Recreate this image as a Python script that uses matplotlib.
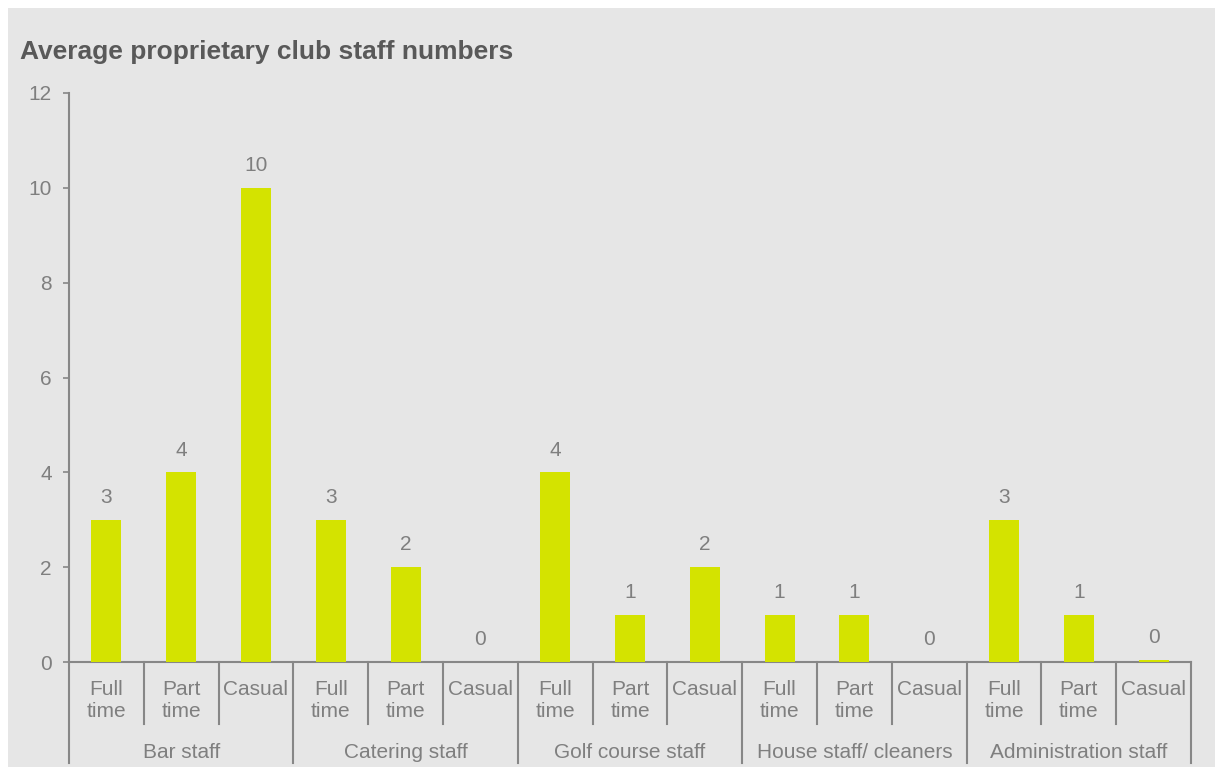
import matplotlib
matplotlib.use("Agg")
import matplotlib.pyplot as plt
from matplotlib.patches import Rectangle

plt.rcParams['font.family'] = ['Liberation Sans', 'DejaVu Sans']

groups = ["Bar staff", "Catering staff", "Golf course staff",
          "House staff/ cleaners", "Administration staff"]
roles = ["Full\ntime", "Part\ntime", "Casual"]
values = [3, 4, 10,
          3, 2, 0,
          4, 1, 2,
          1, 1, 0,
          3, 1, 0.04]

bar_color = "#D4E300"
grey_txt = "#7F7F7F"
line_col = "#878787"

W, H = 1215, 769
fig = plt.figure(figsize=(W / 100, H / 100), dpi=100)
fig.patch.set_facecolor("white")
fig.patches.append(Rectangle((8 / W, 2 / H), 1 - 8 / W, (767 - 8) / H,
                             transform=fig.transFigure, facecolor="#E6E6E6",
                             edgecolor="none", zorder=-5))

fig.text(20 / W, 1 - 52 / H, "Average proprietary club staff numbers",
         fontsize=19, fontweight="bold", color="#595959", va="center")

ax = fig.add_axes([69 / W, 107 / H, (1191 - 69) / W, (676 - 107) / H])
ax.set_facecolor("none")
ax.set_zorder(2)

n = len(values)
xs = list(range(n))
ax.bar(xs, values, width=0.4, color=bar_color, zorder=3)

for x, v in zip(xs, values):
    ax.annotate(f"{v:.0f}", (x, v), xytext=(0, 16), textcoords="offset points",
                ha="center", va="center", fontsize=15, color=grey_txt)

ax.set_xlim(-0.5, n - 0.5)
ax.set_ylim(0, 12)
ax.set_yticks(range(0, 13, 2))
ax.tick_params(axis="y", direction="out", length=4.5, width=1.2, color=line_col,
               labelcolor=grey_txt, labelsize=15, pad=8)
ax.set_xticks([])
for s in ["top", "right"]:
    ax.spines[s].set_visible(False)
for s in ["left", "bottom"]:
    ax.spines[s].set_color(line_col)
    ax.spines[s].set_linewidth(1.5)

# two-level category axis drawn below the plot
tr = ax.get_xaxis_transform()
sub_depth = -62 / 569
grp_depth = -101 / 569
for i in range(n + 1):
    edge = i - 0.5
    depth = grp_depth if i % 3 == 0 else sub_depth
    ax.plot([edge, edge], [0, depth], transform=tr, color=line_col,
            lw=1.5, clip_on=False)

for i in range(n):
    ax.text(i, -0.031, roles[i % 3], transform=tr, ha="center", va="top",
            fontsize=15, color=grey_txt, linespacing=1.25)

for g, name in enumerate(groups):
    ax.text(g * 3 + 1, -90 / 569, name, transform=tr, ha="center", va="center",
            fontsize=15, color=grey_txt)

fig.savefig("out.png", dpi=100)
